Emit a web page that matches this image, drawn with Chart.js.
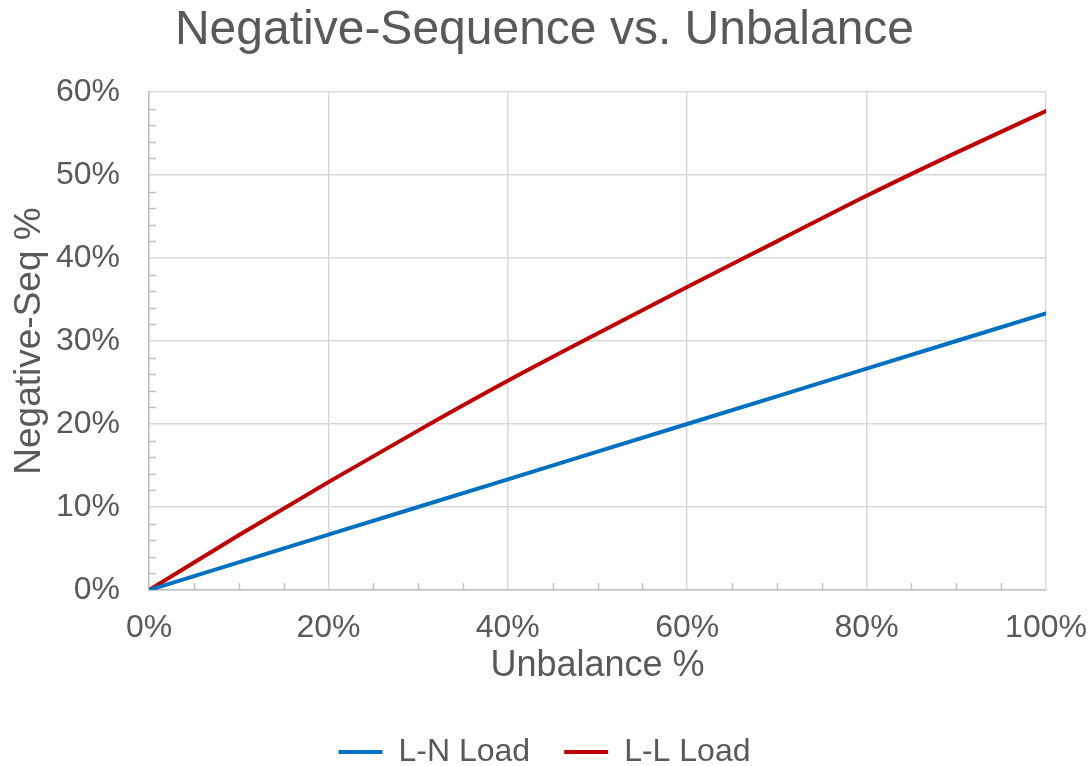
<!DOCTYPE html>
<html>
<head>
<meta charset="utf-8">
<script src="https://cdn.jsdelivr.net/npm/chart.js@4/dist/chart.umd.min.js"></script>
<style>
  html, body { margin: 0; padding: 0; background: #ffffff; }
  #wrap { width: 1089px; height: 766px; position: relative; }
</style>
</head>
<body>
<div id="wrap"><canvas id="c"></canvas></div>
<script>
// ---- data (percent values) ----
const unbalance = [0, 10, 20, 30, 40, 50, 60, 70, 80, 90, 100];
const lnLoad    = [0, 3.33, 6.67, 10.0, 13.33, 16.67, 20.0, 23.33, 26.67, 30.0, 33.33];
const llLoad    = [0, 6.6, 13.0, 19.2, 25.2, 30.9, 36.5, 42.0, 47.5, 52.7, 57.7];
const xTickValues = [0, 20, 40, 60, 80, 100];
const yTickValues = [0, 10, 20, 30, 40, 50, 60];
const seriesNames = ['L-N Load', 'L-L Load'];
const titleText = 'Negative-Sequence vs. Unbalance';
const xTitle = 'Unbalance %';
const yTitle = 'Negative-Seq %';

const toPoints = (xs, ys) => xs.map((x, i) => ({ x: x, y: ys[i] }));

const TEXT = '#595959';
const FONT = "'Liberation Sans', Arial, sans-serif";

const minorTicks = {
  id: 'minorTicks',
  beforeDatasetsDraw(chart) {
    const { ctx, chartArea, scales } = chart;
    ctx.save();
    ctx.strokeStyle = '#bfbfbf';
    ctx.lineWidth = 1.5;
    ctx.beginPath();
    for (let v = 2; v < 60; v += 2) {
      if (v % 10 === 0) continue;
      const y = Math.round(scales.y.getPixelForValue(v)) + 0.5;
      ctx.moveTo(chartArea.left, y);
      ctx.lineTo(chartArea.left + 7, y);
    }
    for (let v = 5; v < 100; v += 5) {
      if (v % 20 === 0) continue;
      const x = Math.round(scales.x.getPixelForValue(v)) + 0.5;
      ctx.moveTo(x, chartArea.bottom);
      ctx.lineTo(x, chartArea.bottom - 7);
    }
    ctx.stroke();
    ctx.restore();
  }
};

new Chart(document.getElementById('c'), {
  type: 'line',
  data: {
    datasets: [
      {
        label: seriesNames[0],
        data: toPoints(unbalance, lnLoad),
        borderColor: '#0070c0',
        backgroundColor: '#0070c0',
        borderWidth: 4,
        pointRadius: 0,
        tension: 0,
        borderCapStyle: 'round'
      },
      {
        label: seriesNames[1],
        data: toPoints(unbalance, llLoad),
        borderColor: '#c00000',
        backgroundColor: '#c00000',
        borderWidth: 4,
        pointRadius: 0,
        cubicInterpolationMode: 'monotone',
        borderCapStyle: 'round'
      }
    ]
  },
  options: {
    responsive: true,
    maintainAspectRatio: false,
    animation: false,
    layout: { padding: { top: 0, left: 0, right: 0, bottom: -12 } },
    plugins: {
      title: {
        display: true,
        text: titleText,
        color: TEXT,
        font: { family: FONT, size: 48, weight: 'normal' },
        padding: { top: 2, bottom: 32.4 }
      },
      legend: {
        display: true,
        position: 'bottom',
        labels: {
          color: TEXT,
          font: { family: FONT, size: 32 },
          boxWidth: 44,
          boxHeight: 4,
          padding: 34,
          generateLabels(chart) {
            return chart.data.datasets.map((ds, i) => ({
              text: ds.label,
              fillStyle: ds.borderColor,
              strokeStyle: ds.borderColor,
              lineWidth: 0,
              fontColor: TEXT,
              datasetIndex: i
            }));
          }
        }
      },
      tooltip: { enabled: false }
    },
    scales: {
      x: {
        type: 'linear',
        min: 0,
        max: 100,
        afterBuildTicks(scale) { scale.ticks = xTickValues.map(v => ({ value: v })); },
        afterFit(scale) { scale.height = 112; scale.paddingRight = 43; scale.paddingLeft = 0; },
        ticks: {
          color: TEXT,
          font: { family: FONT, size: 32 },
          padding: 19,
          maxRotation: 0,
          autoSkip: false,
          callback: v => v + '%'
        },
        grid: { color: '#d9d9d9', lineWidth: 1.5, drawTicks: false },
        border: { color: '#bfbfbf', width: 1.5 },
        title: {
          display: true,
          text: xTitle,
          color: TEXT,
          font: { family: FONT, size: 36 },
          padding: { top: 0, bottom: 14 }
        }
      },
      y: {
        type: 'linear',
        min: 0,
        max: 60,
        afterBuildTicks(scale) { scale.ticks = yTickValues.map(v => ({ value: v })); },
        afterFit(scale) { scale.width = 149; },
        ticks: {
          color: TEXT,
          font: { family: FONT, size: 32 },
          padding: 29,
          autoSkip: false,
          callback: v => v + '%'
        },
        grid: { color: '#d9d9d9', lineWidth: 1.5, drawTicks: false },
        border: { color: '#bfbfbf', width: 1.5 },
        title: {
          display: true,
          text: yTitle,
          color: TEXT,
          font: { family: FONT, size: 37 },
          padding: { top: 8, bottom: 0 }
        }
      }
    }
  },
  plugins: [minorTicks]
});
</script>
</body>
</html>
